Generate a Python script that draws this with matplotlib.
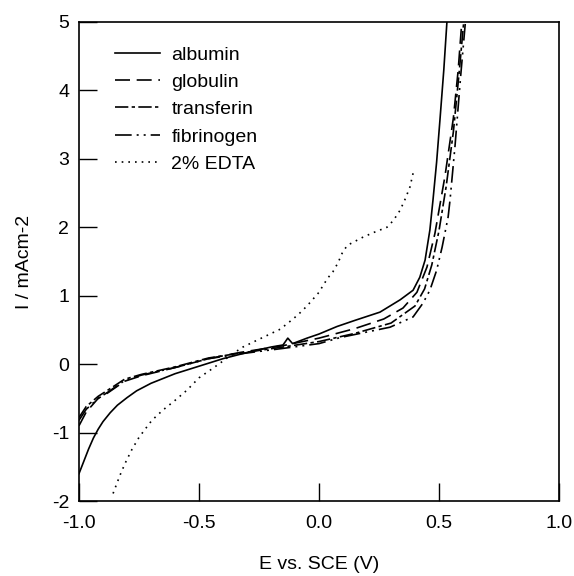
import matplotlib
matplotlib.use("Agg")
import matplotlib.pyplot as plt

plt.rcParams["font.family"] = ["Liberation Sans", "DejaVu Sans"]

# potential (V vs SCE) and current density (mA/cm2)
alb_x = [-1.0, -0.98, -0.96, -0.94, -0.92, -0.9, -0.87, -0.84, -0.8, -0.76, -0.7, -0.6, -0.5,
         -0.4, -0.3, -0.2, -0.15, -0.13, -0.11, -0.05, 0.0, 0.075, 0.15, 0.254, 0.338, 0.392,
         0.42, 0.442, 0.462, 0.475, 0.49, 0.504, 0.52, 0.533]
alb_y = [-1.6, -1.42, -1.24, -1.08, -0.95, -0.84, -0.71, -0.6, -0.49, -0.39, -0.28, -0.14, -0.03,
         0.08, 0.17, 0.25, 0.28, 0.38, 0.3, 0.38, 0.44, 0.55, 0.64, 0.76, 0.94, 1.08,
         1.27, 1.52, 1.96, 2.4, 2.95, 3.57, 4.3, 5.0]

glob_x = [-1.0, -0.97, -0.92, -0.88, -0.81, -0.74, -0.6, -0.46, -0.33, -0.15, 0.0, 0.15, 0.27,
          0.35, 0.408, 0.45, 0.483, 0.525, 0.56, 0.58, 0.595]
glob_y = [-0.9, -0.7, -0.5, -0.42, -0.25, -0.17, -0.05, 0.08, 0.17, 0.27, 0.38, 0.52, 0.66,
          0.82, 1.05, 1.42, 1.91, 2.75, 3.6, 4.3, 5.0]

trans_x = [-1.0, -0.97, -0.92, -0.88, -0.81, -0.74, -0.6, -0.46, -0.33, -0.15, 0.0, 0.15, 0.3,
           0.4, 0.44, 0.47, 0.5, 0.53, 0.56, 0.585, 0.603]
trans_y = [-0.78, -0.62, -0.47, -0.38, -0.22, -0.15, -0.04, 0.09, 0.16, 0.25, 0.33, 0.45, 0.6,
           0.85, 1.1, 1.45, 1.95, 2.6, 3.4, 4.3, 5.0]

fib_x = [-1.0, -0.97, -0.92, -0.88, -0.81, -0.74, -0.6, -0.46, -0.33, -0.15, 0.0, 0.09, 0.296,
         0.392, 0.433, 0.462, 0.49, 0.513, 0.538, 0.546, 0.567, 0.59, 0.61]
fib_y = [-0.82, -0.66, -0.5, -0.41, -0.24, -0.16, -0.05, 0.08, 0.15, 0.23, 0.3, 0.39, 0.54,
         0.69, 0.89, 1.08, 1.37, 1.71, 2.15, 2.4, 3.2, 4.2, 5.0]

edta_x = [-0.858, -0.83, -0.808, -0.78, -0.75, -0.72, -0.696, -0.65, -0.6, -0.55, -0.5, -0.442,
          -0.41, -0.36, -0.317, -0.258, -0.204, -0.162, -0.108, -0.079, -0.05, -0.025, 0.0,
          0.017, 0.037, 0.058, 0.079, 0.1, 0.12, 0.142, 0.18, 0.225, 0.283, 0.31, 0.338, 0.36,
          0.379, 0.392]
edta_y = [-1.89, -1.63, -1.45, -1.25, -1.07, -0.93, -0.82, -0.67, -0.53, -0.38, -0.2, -0.06,
          0.02, 0.15, 0.25, 0.35, 0.44, 0.51, 0.66, 0.75, 0.85, 0.95, 1.05,
          1.15, 1.26, 1.35, 1.48, 1.65, 1.74, 1.78, 1.85, 1.92, 2.0, 2.1, 2.25, 2.42,
          2.59, 2.79]

fig = plt.figure(figsize=(5.74, 5.76), dpi=100)
ax = fig.add_axes([79 / 574, 1 - 501 / 576, 480 / 574, 479 / 576])

lw = 1.2
ax.plot(alb_x, alb_y, color="black", lw=lw, label="albumin")
ax.plot(glob_x, glob_y, color="black", lw=lw, ls=(0, (9, 4)), label="globulin")
ax.plot(trans_x, trans_y, color="black", lw=lw, ls=(0, (8, 2, 2, 2)), label="transferin")
ax.plot(fib_x, fib_y, color="black", lw=lw, ls=(0, (10, 3, 1.2, 3, 1.2, 3)), label="fibrinogen")
ax.plot(edta_x, edta_y, color="black", lw=lw, ls=(0, (1, 3)), label="2% EDTA")

ax.set_xlim(-1.0, 1.0)
ax.set_ylim(-2, 5)
ax.set_xticks([-1.0, -0.5, 0.0, 0.5, 1.0])
ax.set_xticklabels(["-1.0", "-0.5", "0.0", "0.5", "1.0"])
ax.set_yticks([-2, -1, 0, 1, 2, 3, 4, 5])
ax.set_yticklabels(["-2", "-1", "0", "1", "2", "3", "4", "5"])
ax.tick_params(direction="in", length=13, width=1.0, labelsize=14)
ax.tick_params(axis="x", pad=10)
ax.tick_params(axis="y", pad=7)
for s in ax.spines.values():
    s.set_linewidth(1.2)

ax.set_xlabel("E vs. SCE (V)", fontsize=14)
ax.set_ylabel("I / mAcm-2", fontsize=14)
ax.xaxis.set_label_coords(0.5, -0.115)
ax.yaxis.set_label_coords(-0.095, 0.5)

ax.legend(loc="upper left", bbox_to_anchor=(0.075, 0.95), frameon=False, fontsize=14,
          handlelength=2.3, handletextpad=0.6, labelspacing=0.5, borderpad=0, borderaxespad=0)

fig.savefig("out.png", dpi=100)
